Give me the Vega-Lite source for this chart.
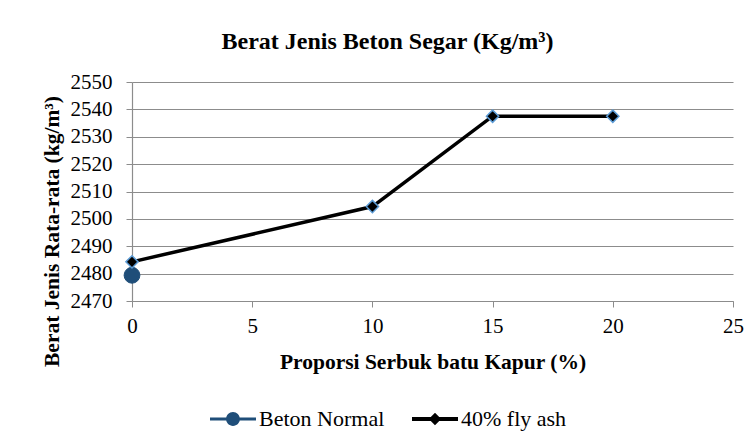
{
  "$schema": "https://vega.github.io/schema/vega-lite/v6.json",
  "width": 601,
  "height": 219,
  "autosize": {"type": "none"},
  "padding": {"left": 132, "top": 82, "right": 17, "bottom": 146},
  "background": "white",
  "config": {
    "font": "Liberation Serif",
    "view": {"stroke": null},
    "axis": {
      "labelFont": "Liberation Serif",
      "labelFontSize": 21,
      "labelColor": "black",
      "titleFont": "Liberation Serif",
      "titleFontSize": 21.5,
      "titleFontWeight": "bold",
      "titleColor": "black",
      "domainColor": "#8c8c8c",
      "tickColor": "#8c8c8c",
      "gridColor": "#8c8c8c",
      "domainWidth": 1.2,
      "gridWidth": 1.2
    }
  },
  "title": {
    "text": "Berat Jenis Beton Segar (Kg/m³)",
    "font": "Liberation Serif",
    "fontSize": 24,
    "fontWeight": "bold",
    "color": "black",
    "dx": -45,
    "offset": 17
  },
  "data": {
    "values": [
      {"x": 0, "y": 2479.4, "series": "Beton Normal"},
      {"x": 0, "y": 2484.3, "series": "40% fly ash"},
      {"x": 10, "y": 2504.5, "series": "40% fly ash"},
      {"x": 15, "y": 2537.5, "series": "40% fly ash"},
      {"x": 20, "y": 2537.5, "series": "40% fly ash"}
    ]
  },
  "encoding": {
    "x": {
      "field": "x",
      "type": "quantitative",
      "scale": {"domain": [0, 25], "nice": false},
      "axis": {
        "title": "Proporsi Serbuk batu Kapur (%)",
        "values": [0, 5, 10, 15, 20, 25],
        "format": "d",
        "labelFlush": false,
        "grid": false,
        "tickSize": 6,
        "labelPadding": 8,
        "titlePadding": 15
      }
    },
    "y": {
      "field": "y",
      "type": "quantitative",
      "scale": {"domain": [2470, 2550], "nice": false, "zero": false},
      "axis": {
        "title": "Berat Jenis Rata-rata (kg/m³)",
        "values": [2470, 2480, 2490, 2500, 2510, 2520, 2530, 2540, 2550],
        "format": "d",
        "labelFlush": false,
        "grid": true,
        "tickSize": 6,
        "labelPadding": 14,
        "titleX": -80,
        "titleY": 149,
        "titleAngle": -90,
        "titleAlign": "center",
        "titleBaseline": "middle"
      }
    },
    "color": {
      "field": "series",
      "type": "nominal",
      "scale": {"domain": ["Beton Normal", "40% fly ash"], "range": ["#1F4E79", "#000000"]},
      "legend": {
        "orient": "none",
        "legendX": 78,
        "legendY": 314,
        "direction": "horizontal",
        "title": null,
        "labelFont": "Liberation Serif",
        "labelFontSize": 22,
        "labelColor": "black",
        "symbolSize": 2116,
        "symbolStrokeWidth": 0,
        "columnPadding": 27,
        "labelOffset": 3,
        "encode": {
          "symbols": {
            "update": {
              "shape": {"signal": "datum.value === 'Beton Normal' ? 'M-1,-0.065H1V0.065H-1Z M-0.3,0A0.3,0.3 0 1,1 0.3,0A0.3,0.3 0 1,1 -0.3,0Z' : 'M-1,-0.085H1V0.085H-1Z M0,-0.27L0.27,0L0,0.27L-0.27,0Z'"},
              "fill": {"signal": "datum.value === 'Beton Normal' ? '#1F4E79' : '#000000'"},
              "strokeWidth": {"value": 0}
            }
          }
        }
      }
    }
  },
  "layer": [
    {
      "transform": [{"filter": "datum.series === '40% fly ash'"}],
      "mark": {"type": "line", "strokeWidth": 3.5}
    },
    {
      "transform": [{"filter": "datum.series === 'Beton Normal'"}],
      "mark": {"type": "point", "shape": "circle", "filled": true, "opacity": 1, "size": 250, "stroke": "#1F4E79", "strokeWidth": 1}
    },
    {
      "transform": [{"filter": "datum.series === '40% fly ash'"}],
      "mark": {"type": "point", "shape": "diamond", "filled": true, "opacity": 1, "size": 150, "stroke": "#5B9BD5", "strokeWidth": 1.5}
    }
  ]
}
